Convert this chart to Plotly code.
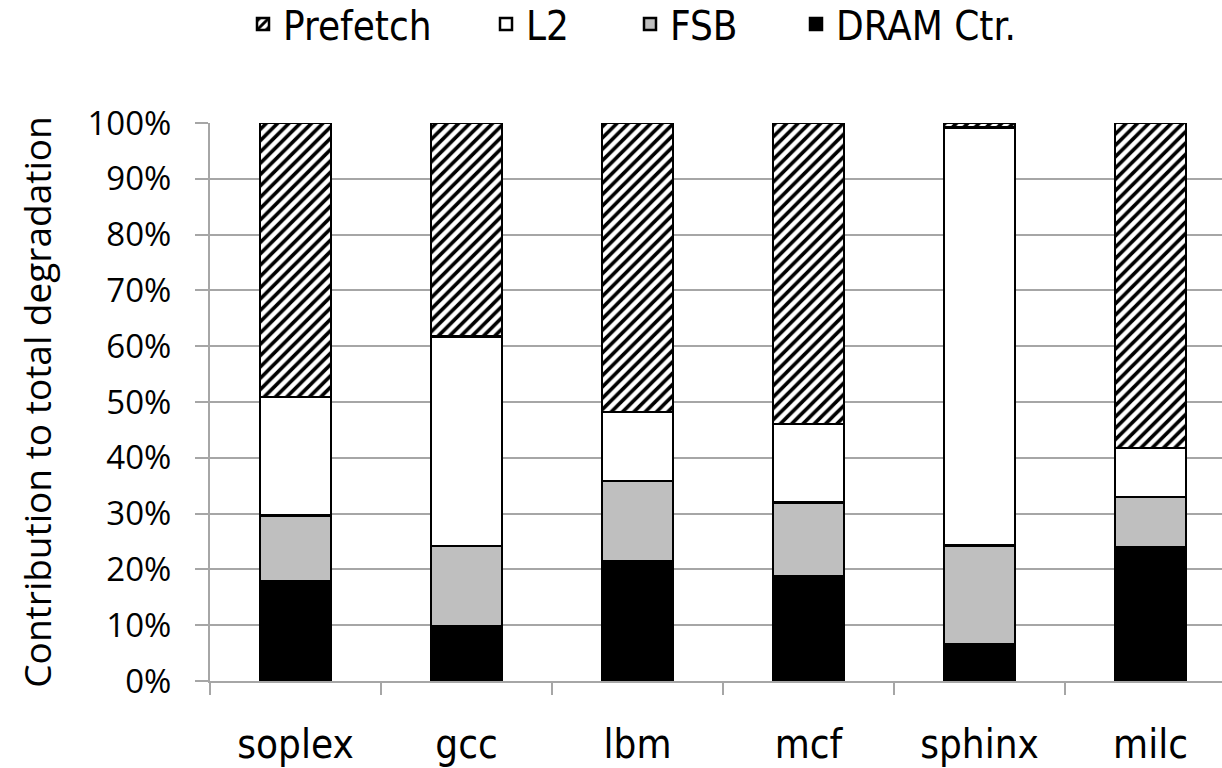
import plotly.graph_objects as go

# Benchmarks and the share (%) of total degradation from each component
benchmarks = ["soplex", "gcc", "lbm", "mcf", "sphinx", "milc"]
dram_ctr = [17.9, 9.8, 21.5, 18.8, 6.5, 24.0]
fsb = [11.8, 14.4, 14.3, 13.2, 17.8, 9.0]
l2 = [21.2, 37.5, 12.4, 14.1, 74.9, 8.8]
prefetch = [49.1, 38.3, 51.8, 53.9, 0.8, 58.2]

y_ticks = list(range(0, 101, 10))
y_tick_labels = [f"{v}%" for v in y_ticks]

W, H = 1222, 768
NARROW = "Liberation Sans Narrow, DejaVu Sans Condensed, Arial Narrow, sans-serif"
WIDE = "Open Sans, DejaVu Sans, sans-serif"

OUTLINE = dict(color="black", width=2.5)

fig = go.Figure()

# stacked from the bottom: DRAM controller, FSB, L2, prefetch
fig.add_trace(go.Bar(
    x=benchmarks, y=dram_ctr, name="DRAM Ctr.", legend="legend4",
    marker=dict(color="black", line=OUTLINE),
))
fig.add_trace(go.Bar(
    x=benchmarks, y=fsb, name="FSB", legend="legend3",
    marker=dict(color="#bfbfbf", line=OUTLINE),
))
fig.add_trace(go.Bar(
    x=benchmarks, y=l2, name="L2", legend="legend2",
    marker=dict(color="white", line=OUTLINE),
))
fig.add_trace(go.Bar(
    x=benchmarks, y=prefetch, name="Prefetch", legend="legend",
    marker=dict(
        color="white", line=OUTLINE,
        pattern=dict(shape="/", fgcolor="black", bgcolor="white",
                     size=8, solidity=0.45, fillmode="replace"),
    ),
))


def legend_at(px_left, px_mid_y):
    return dict(
        xref="container", yref="container",
        x=px_left / W, y=1 - px_mid_y / H,
        xanchor="left", yanchor="middle",
        orientation="h", bgcolor="rgba(0,0,0,0)", borderwidth=0,
        font=dict(family=NARROW, size=40, color="black"),
    )


GRID = "#a6a6a6"

fig.update_layout(
    width=W, height=H,
    margin=dict(l=210, r=0, t=123, b=87, pad=0),
    paper_bgcolor="white", plot_bgcolor="white",
    barmode="stack", bargap=0.585,
    showlegend=True,
    legend=legend_at(243, 24),
    legend2=legend_at(486, 24),
    legend3=legend_at(630, 24),
    legend4=legend_at(796, 24),
    xaxis=dict(
        type="category",
        range=[-0.5, -0.5 + 1012 / 171],
        showgrid=False,
        showline=True, linecolor=GRID, linewidth=2,
        ticks="outside", tickson="boundaries", ticklen=12,
        tickcolor=GRID, tickwidth=2,
        ticklabelstandoff=27,
        tickfont=dict(family=NARROW, size=40, color="black"),
    ),
    yaxis=dict(
        range=[0, 100],
        tickmode="array", tickvals=y_ticks, ticktext=y_tick_labels,
        showgrid=True, gridcolor=GRID, gridwidth=2,
        showline=True, linecolor=GRID, linewidth=2,
        ticks="outside", ticklen=13, tickcolor=GRID, tickwidth=2,
        ticklabelstandoff=17,
        tickfont=dict(family=WIDE, size=33, color="black"),
        zeroline=False,
        title=dict(text="Contribution to total degradation",
                   font=dict(family=WIDE, size=37, color="black"),
                   standoff=25),
    ),
)

fig.write_html("out.html")
